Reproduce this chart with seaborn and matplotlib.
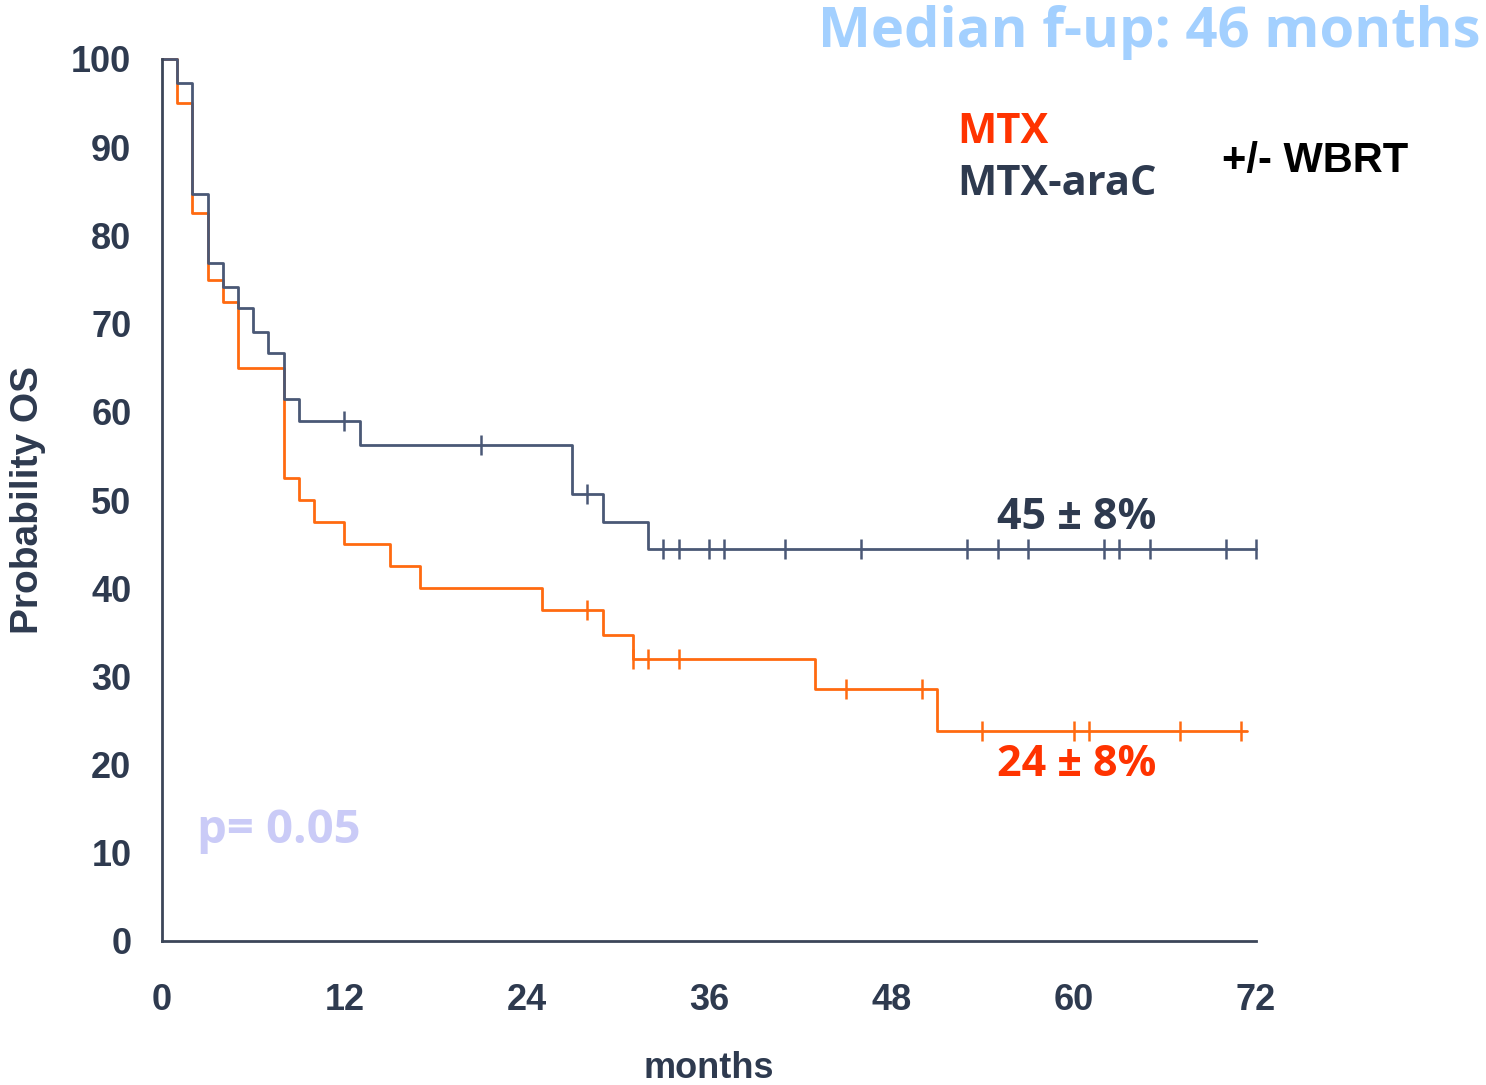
import numpy as np
import pandas as pd
import matplotlib
matplotlib.use("Agg")
import matplotlib.pyplot as plt
import seaborn as sns

# Kaplan-Meier step data (months, % surviving)
mtx_times = [0, 1, 2, 3, 4, 5, 8, 9, 10, 12, 15, 17, 25, 29, 31, 43, 51, 71.4]
mtx_surv = [100, 95.0, 82.5, 75.0, 72.5, 65.0, 52.5, 50.0, 47.5, 45.0, 42.5, 40.0,
            37.5, 34.7, 32.0, 28.6, 23.8, 23.8]
mtx_censored = [28, 31, 32, 34, 45, 50, 54, 60, 61, 67, 71]

arac_times = [0, 1, 2, 3, 4, 5, 6, 7, 8, 9, 13, 27, 29, 32, 72]
arac_surv = [100, 97.3, 84.7, 76.9, 74.2, 71.8, 69.1, 66.7, 61.5, 59.0, 56.2, 50.7,
             47.5, 44.5, 44.5]
arac_censored = [12, 21, 28, 33, 34, 36, 37, 41, 46, 53, 55, 57, 62, 63, 65, 70, 72]

x_ticks = [0, 12, 24, 36, 48, 60, 72]
y_ticks = [0, 10, 20, 30, 40, 50, 60, 70, 80, 90, 100]

ORANGE = "#FF6A10"
SLATE = "#4A5876"
DARK = "#2E3A4F"
RED = "#FF3300"

W, H = 1486, 1085
sns.set_style("white")
plt.rcParams["font.family"] = ["Liberation Sans", "DejaVu Sans"]

fig = plt.figure(figsize=(W / 100, H / 100), dpi=100)
ax = fig.add_axes([162 / W, 1 - 941 / H, (1256 - 162) / W, (941 - 59) / H])


def level_at(times, surv, t):
    idx = np.searchsorted(times, t, side="right") - 1
    return np.asarray(surv)[idx]


curves = [
    (mtx_times, mtx_surv, mtx_censored, ORANGE),
    (arac_times, arac_surv, arac_censored, SLATE),
]
for times, surv, cens, col in curves:
    df = pd.DataFrame({"t": times, "s": surv})
    sns.lineplot(data=df, x="t", y="s", ax=ax, color=col, linewidth=2.0,
                 drawstyle="steps-post", estimator=None, sort=False, clip_on=False)
    cdf = pd.DataFrame({"t": cens, "s": level_at(times, surv, cens)})
    sns.scatterplot(data=cdf, x="t", y="s", ax=ax, marker="|", s=220,
                    color=col, linewidth=1.8, clip_on=False, zorder=3)

ax.set_xlim(0, 72)
ax.set_ylim(0, 100)
ax.set_xticks(x_ticks)
ax.set_yticks(y_ticks)
ax.set_xticklabels([str(v) for v in x_ticks])
ax.set_yticklabels([str(v) for v in y_ticks])

for side in ("top", "right"):
    ax.spines[side].set_visible(False)
for side in ("left", "bottom"):
    ax.spines[side].set_color("#3C4659")
    ax.spines[side].set_linewidth(2.0)

ax.tick_params(axis="both", direction="in", length=8.5, width=1.5, color="#3C4659",
               labelsize=26, labelcolor=DARK)
ax.tick_params(axis="x", pad=30)
ax.tick_params(axis="y", pad=22)
for lab in ax.get_xticklabels() + ax.get_yticklabels():
    lab.set_fontweight("bold")

ax.set_xlabel("months", fontsize=26, fontweight="bold", color=DARK, labelpad=24)
ax.set_ylabel("Probability OS", fontsize=28, fontweight="bold", color=DARK, labelpad=18)


def put(px, py, s, **kw):
    fig.text(px / W, 1 - py / H, s, ha="left", va="baseline", **kw)


open_sans = ["Open Sans", "DejaVu Sans"]
put(818, 47, "Median f-up: 46 months", fontsize=40.5, fontweight="bold",
    color="#A3D0FF", family=open_sans)
put(957, 143, "MTX", fontsize=30, fontweight="bold", color=RED, family=open_sans)
put(957, 195, "MTX-araC", fontsize=30, fontweight="bold", color=DARK, family=open_sans)
put(1222, 172, "+/- WBRT", fontsize=30, fontweight="bold", color="black",
    family=["Liberation Sans", "DejaVu Sans"])
put(997, 529, "45 ± 8%", fontsize=31, fontweight="bold", color=DARK, family=open_sans)
put(997, 776, "24 ± 8%", fontsize=31, fontweight="bold", color=RED, family=open_sans)
put(197, 843, "p= 0.05", fontsize=34, fontweight="bold", color="#CACBF7", family=open_sans)

fig.savefig("out.png", dpi=100)
